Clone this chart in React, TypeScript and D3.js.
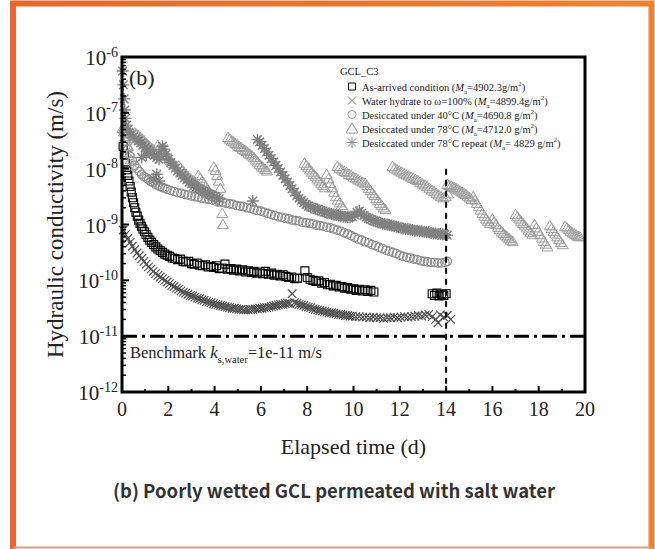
import React, { useRef, useEffect } from 'react';
import * as d3 from 'd3';

// every series: [elapsed time (d), log10 of hydraulic conductivity (m/s)]
type Pt = [number, number];

const xTicks = [0, 2, 4, 6, 8, 10, 12, 14, 16, 18, 20];
const xMinor = [1, 3, 5, 7, 9, 11, 13, 15, 17, 19];
const yExps = [-6, -7, -8, -9, -10, -11, -12];
const benchmarkK = 1e-11;
const cutoffDay = 14;

const asArrived: Pt[] = [
  [0.05, -7.60], [0.10, -7.75], [0.15, -7.90], [0.20, -8.02], [0.25, -8.12], [0.30, -8.22], [0.35, -8.32],
  [0.40, -8.42], [0.45, -8.52], [0.50, -8.61], [0.55, -8.70], [0.60, -8.78], [0.66, -8.85], [0.72, -8.92],
  [0.78, -8.98], [0.84, -9.03], [0.90, -9.08], [0.97, -9.13], [1.04, -9.18], [1.12, -9.23], [1.20, -9.28],
  [1.28, -9.32], [1.37, -9.36], [1.46, -9.40], [1.55, -9.44], [1.65, -9.47], [1.75, -9.50], [1.85, -9.53],
  [1.95, -9.55], [2.06, -9.57], [2.17, -9.60], [2.28, -9.61], [2.40, -9.63], [2.52, -9.62], [2.64, -9.66],
  [2.76, -9.67], [2.88, -9.66], [3.00, -9.70], [3.12, -9.71], [3.24, -9.69], [3.36, -9.73], [3.48, -9.74],
  [3.60, -9.72], [3.72, -9.76], [3.84, -9.75], [3.96, -9.77], [4.08, -9.74], [4.20, -9.79], [4.32, -9.78],
  [4.45, -9.71], [4.57, -9.80], [4.70, -9.79], [4.82, -9.82], [4.95, -9.80], [5.08, -9.83], [5.20, -9.81],
  [5.33, -9.85], [5.46, -9.83], [5.58, -9.86], [5.70, -9.84], [5.83, -9.87], [5.96, -9.85], [6.08, -9.88],
  [6.20, -9.84], [6.33, -9.89], [6.46, -9.87], [6.58, -9.91], [6.70, -9.89], [6.83, -9.92], [6.96, -9.90],
  [7.08, -9.93], [7.20, -9.95], [7.33, -9.94], [7.46, -9.97], [7.58, -9.96], [7.90, -9.83], [8.00, -9.95],
  [8.12, -9.98], [8.25, -10.00], [8.38, -10.02], [8.50, -10.01], [8.62, -10.05], [8.75, -10.04], [8.88, -10.08],
  [9.00, -10.07], [9.12, -10.10], [9.25, -10.09], [9.38, -10.12], [9.50, -10.11], [9.62, -10.14], [9.75, -10.13],
  [9.88, -10.16], [10.00, -10.15], [10.12, -10.18], [10.25, -10.16], [10.38, -10.19], [10.50, -10.17],
  [10.62, -10.20], [10.75, -10.18], [10.88, -10.21],
  [13.40, -10.24], [13.50, -10.27], [13.60, -10.23], [13.70, -10.28], [13.80, -10.25], [13.90, -10.27], [14.00, -10.24],
];

const waterHydrate: Pt[] = [
  [0.05, -9.10], [0.15, -9.18], [0.25, -9.25], [0.35, -9.32], [0.45, -9.39], [0.55, -9.45], [0.65, -9.51],
  [0.75, -9.56], [0.85, -9.61], [0.95, -9.66], [1.05, -9.71], [1.15, -9.76], [1.25, -9.80], [1.35, -9.84],
  [1.45, -9.88], [1.55, -9.91], [1.65, -9.94], [1.75, -9.97], [1.85, -10.00], [1.95, -10.03], [2.05, -10.06],
  [2.15, -10.09], [2.25, -10.11], [2.35, -10.14], [2.45, -10.16], [2.55, -10.19], [2.65, -10.21], [2.75, -10.23],
  [2.85, -10.25], [2.95, -10.27], [3.05, -10.28], [3.15, -10.30], [3.25, -10.32], [3.35, -10.33], [3.45, -10.35],
  [3.55, -10.36], [3.65, -10.38], [3.75, -10.39], [3.85, -10.40], [3.95, -10.42], [4.05, -10.43], [4.15, -10.44],
  [4.25, -10.45], [4.35, -10.46], [4.45, -10.47], [4.55, -10.48], [4.65, -10.49], [4.75, -10.50], [4.85, -10.50],
  [4.95, -10.51], [5.05, -10.52], [5.15, -10.52], [5.25, -10.53], [5.35, -10.53], [5.45, -10.53], [5.55, -10.52],
  [5.65, -10.52], [5.75, -10.51], [5.85, -10.51], [5.95, -10.50], [6.05, -10.50], [6.15, -10.49], [6.25, -10.49],
  [6.35, -10.48], [6.45, -10.47], [6.55, -10.46], [6.65, -10.45], [6.75, -10.44], [6.85, -10.43], [6.95, -10.43],
  [7.05, -10.42], [7.15, -10.41], [7.25, -10.41], [7.35, -10.24], [7.45, -10.40], [7.55, -10.41], [7.65, -10.43],
  [7.75, -10.44], [7.85, -10.45], [7.95, -10.47], [8.05, -10.48], [8.15, -10.49], [8.25, -10.51], [8.35, -10.52],
  [8.45, -10.53], [8.55, -10.54], [8.65, -10.55], [8.75, -10.56], [8.85, -10.57], [8.95, -10.58], [9.05, -10.58],
  [9.15, -10.59], [9.25, -10.60], [9.35, -10.61], [9.45, -10.61], [9.55, -10.62], [9.65, -10.63], [9.75, -10.63],
  [9.85, -10.64], [9.95, -10.64], [10.10, -10.65], [10.25, -10.65], [10.40, -10.66], [10.55, -10.66], [10.70, -10.67],
  [10.85, -10.66], [11.00, -10.67], [11.15, -10.67], [11.30, -10.68], [11.45, -10.67], [11.60, -10.67], [11.75, -10.66],
  [11.90, -10.67], [12.05, -10.66], [12.20, -10.65], [12.35, -10.66], [12.50, -10.65], [12.65, -10.64], [12.80, -10.63],
  [12.95, -10.64], [13.10, -10.62], [13.25, -10.61], [13.40, -10.65], [13.55, -10.70], [13.65, -10.76], [13.75, -10.62],
  [13.90, -10.66], [14.05, -10.63], [14.20, -10.70],
];

const desiccated40: Pt[] = [
  [0.05, -7.35], [0.15, -7.52], [0.25, -7.66], [0.35, -7.77], [0.45, -7.86], [0.55, -7.94], [0.65, -8.00],
  [0.75, -8.05], [0.85, -8.10], [0.95, -8.14], [1.05, -8.17], [1.15, -8.20], [1.25, -8.23], [1.35, -8.25],
  [1.45, -8.28], [1.55, -8.30], [1.65, -8.32], [1.75, -8.34], [1.85, -8.35], [1.95, -8.37], [2.10, -8.39],
  [2.25, -8.41], [2.40, -8.43], [2.55, -8.44], [2.70, -8.46], [2.85, -8.47], [3.00, -8.49], [3.15, -8.50],
  [3.30, -8.51], [3.45, -8.53], [3.60, -8.54], [3.75, -8.55], [3.90, -8.56], [4.05, -8.58], [4.20, -8.59],
  [4.35, -8.60], [4.50, -8.62], [4.65, -8.63], [4.80, -8.64], [4.95, -8.66], [5.10, -8.67], [5.25, -8.68],
  [5.40, -8.70], [5.55, -8.71], [5.70, -8.73], [5.85, -8.75], [6.00, -8.76], [6.15, -8.78], [6.30, -8.80],
  [6.45, -8.82], [6.60, -8.84], [6.75, -8.86], [6.90, -8.87], [7.05, -8.89], [7.20, -8.90], [7.35, -8.92],
  [7.50, -8.93], [7.65, -8.94], [7.80, -8.96], [7.95, -8.97], [8.10, -8.98], [8.25, -8.99], [8.40, -9.01],
  [8.55, -9.02], [8.70, -9.03], [8.85, -9.05], [9.00, -9.06], [9.15, -9.08], [9.30, -9.10], [9.45, -9.12],
  [9.60, -9.15], [9.75, -9.17], [9.90, -9.20], [10.05, -9.23], [10.20, -9.26], [10.35, -9.28], [10.50, -9.31],
  [10.65, -9.33], [10.80, -9.36], [10.95, -9.38], [11.10, -9.41], [11.25, -9.43], [11.40, -9.46], [11.55, -9.48],
  [11.70, -9.50], [11.85, -9.52], [12.00, -9.55], [12.15, -9.57], [12.30, -9.59], [12.45, -9.60], [12.60, -9.62],
  [12.75, -9.63], [12.90, -9.65], [13.05, -9.66], [13.20, -9.67], [13.35, -9.68], [13.50, -9.68], [13.65, -9.69],
  [13.80, -9.69], [13.95, -9.68], [14.05, -9.66],
];

const desiccated78: Pt[] = [
  [0.02, -7.28], [0.08, -7.34], [0.14, -7.42], [0.20, -7.50], [0.26, -7.60], [0.32, -7.72], [0.38, -7.84], [0.44, -7.95],
  [0.55, -7.36], [0.63, -7.38], [0.71, -7.41], [0.79, -7.44], [0.87, -7.47], [0.95, -7.50], [1.03, -7.54], [1.11, -7.57],
  [1.19, -7.60], [1.27, -7.63], [1.35, -7.66],
  [1.55, -7.58], [1.63, -7.62], [1.71, -7.66], [1.79, -7.70], [1.87, -7.74], [1.95, -7.78], [2.03, -7.82], [2.11, -7.86],
  [2.19, -7.90], [2.27, -7.93],
  [2.45, -7.95], [2.53, -7.99], [2.61, -8.03], [2.69, -8.07], [2.77, -8.10], [2.85, -8.14], [2.93, -8.17], [3.01, -8.20],
  [3.09, -8.22], [3.17, -8.25],
  [3.30, -8.12], [3.38, -8.17], [3.46, -8.22], [3.54, -8.27], [3.62, -8.32], [3.70, -8.37], [3.78, -8.42], [3.86, -8.46],
  [3.94, -8.50],
  [3.97, -7.97], [4.04, -8.03], [4.11, -8.12], [4.18, -8.22], [4.25, -8.35], [4.30, -8.60], [4.33, -8.80], [4.36, -9.00],
  [4.58, -7.44], [4.66, -7.47], [4.74, -7.50], [4.82, -7.52], [4.90, -7.55], [4.98, -7.57], [5.06, -7.60], [5.14, -7.62],
  [5.22, -7.65], [5.30, -7.67], [5.38, -7.69], [5.46, -7.72], [5.54, -7.74], [5.62, -7.77], [5.70, -7.80], [5.78, -7.84],
  [5.86, -7.88], [5.94, -7.92], [6.02, -7.95], [6.10, -7.98], [6.18, -8.01], [6.26, -8.04],
  [7.88, -7.90], [7.96, -7.94], [8.04, -7.98], [8.12, -8.02], [8.20, -8.06], [8.28, -8.10], [8.36, -8.14], [8.44, -8.18],
  [8.52, -8.22], [8.60, -8.26], [8.68, -8.30], [8.76, -8.34],
  [8.84, -8.10], [8.92, -8.18], [9.00, -8.26], [9.08, -8.34], [9.16, -8.42], [9.24, -8.50], [9.32, -8.56], [9.40, -8.61],
  [9.48, -8.66], [9.56, -8.70],
  [9.30, -7.96], [9.40, -7.99], [9.50, -8.02], [9.60, -8.05], [9.70, -8.07], [9.80, -8.10], [9.90, -8.12], [10.00, -8.15],
  [10.10, -8.17], [10.20, -8.20], [10.30, -8.22], [10.40, -8.24], [10.50, -8.26],
  [10.58, -8.30], [10.66, -8.35], [10.74, -8.39], [10.82, -8.44], [10.90, -8.48], [10.98, -8.53], [11.06, -8.57],
  [11.14, -8.62], [11.22, -8.66], [11.30, -8.70], [11.38, -8.73],
  [11.68, -7.96], [11.78, -7.99], [11.88, -8.02], [11.98, -8.04], [12.08, -8.06], [12.18, -8.09], [12.28, -8.11],
  [12.38, -8.13], [12.48, -8.15], [12.58, -8.17], [12.68, -8.19], [12.78, -8.21], [12.88, -8.24], [12.98, -8.27],
  [13.08, -8.29], [13.18, -8.32], [13.28, -8.35], [13.38, -8.38], [13.48, -8.41], [13.58, -8.44], [13.68, -8.47],
  [13.78, -8.50], [13.88, -8.52], [13.98, -8.50], [14.08, -8.45],
  [14.05, -8.28], [14.13, -8.30], [14.21, -8.31], [14.29, -8.33], [14.37, -8.34], [14.45, -8.36], [14.53, -8.38],
  [14.61, -8.40], [14.69, -8.42], [14.77, -8.44], [14.85, -8.46], [14.93, -8.49], [15.01, -8.52], [15.09, -8.55],
  [15.17, -8.50], [15.25, -8.56], [15.33, -8.62], [15.41, -8.68], [15.49, -8.74], [15.57, -8.80], [15.65, -8.85],
  [15.73, -8.90], [15.81, -8.94], [15.89, -8.98],
  [16.00, -8.90], [16.08, -8.95], [16.16, -9.00], [16.24, -9.05], [16.32, -9.09], [16.40, -9.13], [16.48, -9.16],
  [16.56, -9.19], [16.64, -9.22], [16.72, -9.25], [16.80, -9.28], [16.88, -9.30],
  [17.00, -8.82], [17.08, -8.86], [17.16, -8.90], [17.24, -8.94], [17.32, -8.98], [17.40, -9.02], [17.48, -9.06],
  [17.56, -9.10], [17.64, -9.14], [17.72, -9.18],
  [17.82, -9.00], [17.90, -9.06], [17.98, -9.12], [18.06, -9.18], [18.14, -9.24], [18.22, -9.30], [18.30, -9.35], [18.38, -9.40],
  [18.48, -9.02], [18.56, -9.07], [18.64, -9.12], [18.72, -9.17], [18.80, -9.22], [18.88, -9.27], [18.96, -9.32], [19.04, -9.36],
  [19.14, -9.03], [19.22, -9.06], [19.30, -9.09], [19.38, -9.12], [19.46, -9.15], [19.54, -9.17], [19.62, -9.19],
  [19.70, -9.21], [19.78, -9.22],
];

const desiccated78Repeat: Pt[] = [
  [0.03, -6.25], [0.06, -6.50], [0.09, -6.75], [0.12, -6.95], [0.15, -7.10], [0.20, -7.22], [0.25, -7.30], [0.30, -7.35],
  [0.40, -7.39], [0.50, -7.43], [0.60, -7.47], [0.70, -7.50], [0.80, -7.54], [0.85, -7.80], [0.90, -7.58], [1.00, -7.62],
  [1.05, -7.75], [1.10, -7.66], [1.20, -7.69], [1.30, -7.73], [1.35, -8.18], [1.40, -7.76], [1.50, -7.80], [1.50, -8.10],
  [1.60, -7.83], [1.60, -8.22], [1.70, -7.66], [1.75, -7.60], [1.80, -7.65], [1.90, -7.74], [2.00, -7.83], [2.10, -7.89],
  [2.20, -7.94], [2.30, -7.99], [2.40, -8.04], [2.50, -8.08], [2.60, -8.12], [2.70, -8.16], [2.80, -8.20], [2.90, -8.24],
  [3.00, -8.27], [3.10, -8.30], [3.20, -8.33], [3.30, -8.35], [3.40, -8.38], [3.50, -8.40], [3.60, -8.42], [3.70, -8.44],
  [3.80, -8.46], [3.90, -8.48], [4.00, -8.50], [4.10, -8.52], [4.20, -8.54], [5.65, -8.58],
  [5.85, -7.48], [5.95, -7.52], [6.05, -7.58], [6.15, -7.64], [6.25, -7.70], [6.35, -7.76], [6.45, -7.82], [6.55, -7.88],
  [6.65, -7.94], [6.75, -8.00], [6.85, -8.06], [6.95, -8.12], [7.05, -8.18], [7.15, -8.24], [7.25, -8.30], [7.35, -8.36],
  [7.45, -8.42], [7.55, -8.48], [7.65, -8.53], [7.75, -8.57], [7.85, -8.61], [7.95, -8.64], [8.05, -8.67], [8.15, -8.69],
  [8.25, -8.70], [8.35, -8.72], [8.45, -8.73], [8.55, -8.75], [8.65, -8.76], [8.75, -8.78], [8.85, -8.79], [8.95, -8.80],
  [9.05, -8.81], [9.15, -8.82], [9.25, -8.83], [9.35, -8.84], [9.45, -8.85], [9.55, -8.86], [9.65, -8.86], [9.75, -8.87],
  [9.85, -8.87], [9.95, -8.86], [10.05, -8.83], [10.15, -8.78], [10.25, -8.76], [10.35, -8.80], [10.45, -8.84],
  [10.55, -8.87], [10.65, -8.89], [10.75, -8.91], [10.85, -8.93], [10.95, -8.94], [11.05, -8.96], [11.15, -8.97],
  [11.25, -8.98], [11.35, -8.99], [11.45, -9.00], [11.55, -9.01], [11.65, -9.02], [11.75, -9.03], [11.85, -9.04],
  [11.95, -9.05], [12.05, -9.06], [12.15, -9.07], [12.25, -9.08], [12.35, -9.08], [12.45, -9.09], [12.55, -9.10],
  [12.65, -9.11], [12.75, -9.11], [12.85, -9.12], [12.95, -9.12], [13.05, -9.13], [13.15, -9.14], [13.25, -9.14],
  [13.35, -9.15], [13.45, -9.16], [13.55, -9.16], [13.65, -9.17], [13.75, -9.17], [13.85, -9.18], [13.95, -9.18],
  [14.05, -9.19],
];

const seriesNames = [
  'As-arrived condition',
  'Water hydrate to \u03c9=100%',
  'Desiccated under 40\u00b0C',
  'Desiccated under 78\u00b0C',
  'Desiccated under 78\u00b0C repeat',
];
const massLabels = ['=4902.3g/m', '=4899.4g/m', '=4690.8 g/m', '=4712.0 g/m', '= 4829 g/m'];

const SERIF = '"Liberation Serif", "Times New Roman", serif';

const symbolPath = (kind: string, s: number) => {
  const h = s / 2;
  if (kind === 'square') return `M${-h},${-h}H${h}V${h}H${-h}Z`;
  if (kind === 'cross') return `M${-h},${-h}L${h},${h}M${-h},${h}L${h},${-h}`;
  if (kind === 'circle') return `M${h},0A${h},${h} 0 1,1 ${-h},0A${h},${h} 0 1,1 ${h},0Z`;
  if (kind === 'triangle') return `M0,${-h * 0.95}L${h},${h * 0.75}L${-h},${h * 0.75}Z`;
  const d = h * 0.72;
  return `M0,${-h}V${h}M${-h},0H${h}M${-d},${-d}L${d},${d}M${-d},${d}L${d},${-d}`;
};

// appends text runs, with sub / superscript done through dy
const richText = (sel: any, parts: any[], size: number) => {
  let shift = 0;
  parts.forEach(p => {
    const target = p.sub ? size * 0.3 : p.sup ? -size * 0.4 : 0;
    const fs = p.sub || p.sup ? size * 0.65 : size;
    sel.append('tspan')
      .attr('dy', target - shift)
      .attr('font-size', p.size || fs)
      .attr('font-style', p.italic ? 'italic' : null)
      .text(p.t);
    shift = target;
  });
};

const App = () => {
  const svgRef = useRef<SVGSVGElement>(null);

  useEffect(() => {
    const svg = d3.select(svgRef.current);
    svg.selectAll('*').remove();

    const x = d3.scaleLinear().domain([0, 20]).range([122, 585]);
    const y = d3.scaleLog().domain([1e-12, 1e-6]).range([392, 57]);
    const ky = (v: number) => y(Math.pow(10, v));

    svg.append('rect').attr('width', 655).attr('height', 549).attr('fill', '#fff');

    // orange card border
    const grad = svg.append('defs').append('linearGradient')
      .attr('id', 'cardEdge').attr('gradientUnits', 'userSpaceOnUse')
      .attr('x1', 0).attr('x2', 655).attr('y1', 0).attr('y2', 0);
    grad.append('stop').attr('offset', '0%').attr('stop-color', '#f0612f');
    grad.append('stop').attr('offset', '100%').attr('stop-color', '#f4802b');
    svg.append('path')
      .attr('d', 'M13,549V3.5H651.5V549')
      .attr('fill', 'none').attr('stroke', 'url(#cardEdge)').attr('stroke-width', 6);
    svg.append('line')
      .attr('x1', 13).attr('x2', 652).attr('y1', 547.5).attr('y2', 547.5)
      .attr('stroke', '#f39469').attr('stroke-width', 2);

    // markers
    const series = [
      { data: asArrived, kind: 'square', size: 8, stroke: '#000', sw: 1.1 },
      { data: waterHydrate, kind: 'cross', size: 8.5, stroke: '#505050', sw: 1.2 },
      { data: desiccated40, kind: 'circle', size: 8.5, stroke: '#8a8a8a', sw: 1.1 },
      { data: desiccated78, kind: 'triangle', size: 11, stroke: '#9c9c9c', sw: 1 },
      { data: desiccated78Repeat, kind: 'star', size: 12, stroke: '#808080', sw: 1.4 },
    ];
    series.forEach(s => {
      svg.append('g')
        .selectAll('path')
        .data(s.data)
        .enter().append('path')
        .attr('transform', d => `translate(${x(d[0])},${ky(d[1])})`)
        .attr('d', symbolPath(s.kind, s.size))
        .attr('fill', 'none')
        .attr('stroke', s.stroke)
        .attr('stroke-width', s.sw);
    });

    // benchmark and end of permeation lines
    svg.append('line')
      .attr('x1', x(0)).attr('x2', x(20)).attr('y1', y(benchmarkK)).attr('y2', y(benchmarkK))
      .attr('stroke', '#000').attr('stroke-width', 3).attr('stroke-dasharray', '15,5,3,5');
    svg.append('line')
      .attr('x1', x(cutoffDay)).attr('x2', x(cutoffDay)).attr('y1', y(1e-8)).attr('y2', y(1e-12))
      .attr('stroke', '#000').attr('stroke-width', 2).attr('stroke-dasharray', '6,5');

    // axes frame and ticks
    svg.append('rect')
      .attr('x', x(0)).attr('y', y(1e-6)).attr('width', x(20) - x(0)).attr('height', y(1e-12) - y(1e-6))
      .attr('fill', 'none').attr('stroke', '#000').attr('stroke-width', 3);

    const ticks = svg.append('g').attr('stroke', '#000').attr('stroke-width', 2);
    xTicks.forEach(t => {
      ticks.append('line').attr('x1', x(t)).attr('x2', x(t)).attr('y1', y(1e-12)).attr('y2', y(1e-12) - 6);
    });
    xMinor.forEach(t => {
      ticks.append('line').attr('x1', x(t)).attr('x2', x(t)).attr('y1', y(1e-12)).attr('y2', y(1e-12) - 3);
    });
    yExps.forEach(e => {
      ticks.append('line').attr('x1', x(0)).attr('x2', x(0) + 7).attr('y1', y(Math.pow(10, e))).attr('y2', y(Math.pow(10, e)));
    });
    d3.range(-12, -6).forEach(e => {
      d3.range(2, 10).forEach(m => {
        const v = m * Math.pow(10, e);
        ticks.append('line').attr('x1', x(0)).attr('x2', x(0) + 4).attr('y1', y(v)).attr('y2', y(v))
          .attr('stroke-width', 1.5);
      });
    });

    // tick labels
    svg.append('g')
      .selectAll('text')
      .data(xTicks)
      .enter().append('text')
      .attr('x', d => x(d))
      .attr('y', 416)
      .attr('text-anchor', 'middle')
      .attr('font-family', SERIF)
      .attr('font-size', 20)
      .attr('fill', '#222')
      .text(d => d);

    yExps.forEach(e => {
      const t = svg.append('text')
        .attr('x', 118).attr('y', y(Math.pow(10, e)) + 8)
        .attr('text-anchor', 'end')
        .attr('font-family', SERIF)
        .attr('fill', '#222');
      richText(t, [{ t: '10', size: 21 }, { t: String(e), sup: true, size: 14 }], 21);
    });

    // axis titles
    svg.append('text')
      .attr('transform', `translate(63,${(y(1e-6) + y(1e-12)) / 2}) rotate(-90)`)
      .attr('text-anchor', 'middle')
      .attr('font-family', SERIF).attr('font-size', 23).attr('fill', '#222')
      .text('Hydraulic conductivity (m/s)');
    svg.append('text')
      .attr('x', (x(0) + x(20)) / 2).attr('y', 454)
      .attr('text-anchor', 'middle')
      .attr('font-family', SERIF).attr('font-size', 22).attr('fill', '#222')
      .text('Elapsed time (d)');

    // panel letter
    svg.append('text')
      .attr('x', 129).attr('y', 85)
      .attr('font-family', SERIF).attr('font-size', 22).attr('fill', '#222')
      .text('(b)');

    // benchmark label
    const bench = svg.append('text')
      .attr('x', 130).attr('y', 358)
      .attr('font-family', SERIF).attr('fill', '#222');
    richText(bench, [
      { t: 'Benchmark ', size: 16.5 },
      { t: 'k', italic: true, size: 17 },
      { t: 's,water', sub: true, size: 10.5 },
      { t: '=1e-11 m/s', size: 16.5 },
    ], 16.5);

    // legend
    const lg = svg.append('g').attr('font-family', SERIF).attr('fill', '#222');
    lg.append('text').attr('x', 340).attr('y', 75).attr('font-size', 10.5).text('GCL_C3');
    const legendMarks = [
      { kind: 'square', size: 7, stroke: '#000' },
      { kind: 'cross', size: 8, stroke: '#777' },
      { kind: 'circle', size: 8, stroke: '#999' },
      { kind: 'triangle', size: 12, stroke: '#999' },
      { kind: 'star', size: 11, stroke: '#888' },
    ];
    seriesNames.forEach((name, i) => {
      const cy = 86.5 + i * 14;
      const m = legendMarks[i];
      lg.append('path')
        .attr('transform', `translate(352,${cy})`)
        .attr('d', symbolPath(m.kind, m.size))
        .attr('fill', 'none').attr('stroke', m.stroke).attr('stroke-width', 1);
      const t = lg.append('text').attr('x', 362).attr('y', cy + 4);
      richText(t, [
        { t: name + ' (' },
        { t: 'M', italic: true },
        { t: 'a', sub: true },
        { t: massLabels[i] },
        { t: '2', sup: true },
        { t: ')' },
      ], 10.5);
    });

    // caption
    svg.append('text')
      .attr('x', 113).attr('y', 498)
      .attr('font-family', '"Noto Sans CJK SC", "Noto Sans", sans-serif')
      .attr('font-weight', 700).attr('font-size', 18.5).attr('fill', '#333')
      .text('(b) Poorly wetted GCL permeated with salt water');
  }, []);

  return (
    <svg ref={svgRef} width={655} height={549} style={{ position: 'absolute', left: 0, top: 0 }} />
  );
};

export default App;
